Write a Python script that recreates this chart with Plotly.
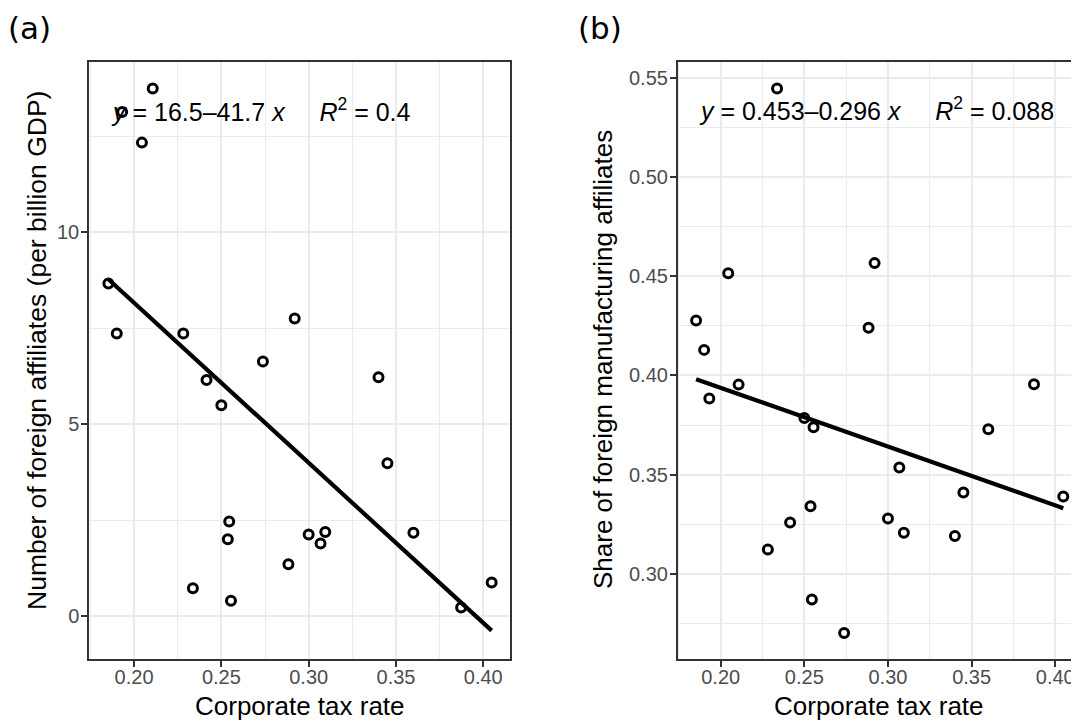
import plotly.graph_objects as go

# ---- data ----
tax_rate = [0.1853, 0.1901, 0.1932, 0.2045, 0.2107, 0.2282, 0.2337, 0.2415,
            0.2500, 0.2537, 0.2545, 0.2555, 0.2738, 0.2884, 0.2920, 0.3000,
            0.3068, 0.3095, 0.3400, 0.3451, 0.3600, 0.3873, 0.4048]
affiliates = [8.66, 7.36, 13.13, 12.33, 13.74, 7.36, 0.72, 6.15,
              5.49, 2.00, 2.46, 0.40, 6.63, 1.35, 7.75, 2.12,
              1.89, 2.19, 6.22, 3.98, 2.17, 0.22, 0.87]
manuf_share = [0.4277, 0.4129, 0.3884, 0.4515, 0.3954, 0.3124, 0.5445, 0.3260,
               0.3786, 0.3341, 0.2872, 0.3739, 0.2703, 0.4240, 0.4566, 0.3280,
               0.3537, 0.3208, 0.3192, 0.3411, 0.3729, 0.3956, 0.3390]

x_ticks = [0.20, 0.25, 0.30, 0.35, 0.40]
x_tick_labels = ["0.20", "0.25", "0.30", "0.35", "0.40"]
x_minor = [0.175, 0.225, 0.275, 0.325, 0.375, 0.425]
a_y_ticks = [0, 5, 10]
a_y_tick_labels = ["0", "5", "10"]
a_y_minor = [-2.5, 2.5, 7.5, 12.5]
b_y_ticks = [0.30, 0.35, 0.40, 0.45, 0.50, 0.55]
b_y_tick_labels = ["0.30", "0.35", "0.40", "0.45", "0.50", "0.55"]
b_y_minor = [0.275, 0.325, 0.375, 0.425, 0.475, 0.525]

# regression equations as printed on the chart
a_intercept, a_slope, a_r2 = 16.5, -41.7, "0.4"
b_intercept, b_slope, b_r2 = 0.453, -0.296, "0.088"

x_title = "Corporate tax rate"
a_y_title = "Number of foreign affiliates (per billion GDP)"
b_y_title = "Share of foreign manufacturing affiliates"

# ---- layout constants ----
OFF = 8                      # page body margin of the html page
W, H = 1079 - OFF, 723 - OFF
FONT = "Liberation Sans, Arial, sans-serif"
BORDER = "#333333"
GRID = "#EBEBEB"
TICKC = "#4D4D4D"


def px_x(p):
    return (p - OFF) / W


def px_y(p):
    return 1 - (p - OFF) / H


fig = go.Figure()

xmin, xmax = min(tax_rate), max(tax_rate)
marker = dict(symbol="circle-open", size=9, color="black",
              line=dict(width=3, color="black"))

# panel (a)
fig.add_trace(go.Scatter(
    x=[xmin, xmax], y=[a_intercept + a_slope * xmin, a_intercept + a_slope * xmax],
    mode="lines", line=dict(color="black", width=4.2), xaxis="x", yaxis="y",
    hoverinfo="skip"))
fig.add_trace(go.Scatter(
    x=tax_rate, y=affiliates, mode="markers", xaxis="x", yaxis="y", marker=marker))

# panel (b)
fig.add_trace(go.Scatter(
    x=[xmin, xmax], y=[b_intercept + b_slope * xmin, b_intercept + b_slope * xmax],
    mode="lines", line=dict(color="black", width=4.2), xaxis="x2", yaxis="y2",
    hoverinfo="skip"))
fig.add_trace(go.Scatter(
    x=tax_rate, y=manuf_share, mode="markers", xaxis="x2", yaxis="y2", marker=marker))

common_axis = dict(
    showline=True, linecolor=BORDER, linewidth=1.5,
    ticks="outside", ticklen=6, tickwidth=1.5, tickcolor=BORDER,
    showgrid=True, gridcolor=GRID, gridwidth=1.8, zeroline=False,
    tickfont=dict(family=FONT, size=20, color=TICKC),
)
minor_x = dict(tickvals=x_minor, showgrid=True, gridcolor=GRID, gridwidth=1.1, ticks="")

ydom = [px_y(659), px_y(62)]

fig.update_layout(
    width=W, height=H,
    margin=dict(l=0, r=0, t=0, b=0),
    paper_bgcolor="white", plot_bgcolor="white",
    showlegend=False,
    xaxis=dict(common_axis, domain=[px_x(89), px_x(510)], range=[0.1742, 0.4153],
               tickvals=x_ticks, ticktext=x_tick_labels, anchor="y", mirror=True,
               ticklabelstandoff=-7, minor=minor_x),
    yaxis=dict(common_axis, domain=ydom, range=[-1.12, 14.43],
               tickvals=a_y_ticks, ticktext=a_y_tick_labels, anchor="x", mirror=True,
               ticklabelstandoff=-2,
               minor=dict(tickvals=a_y_minor, showgrid=True, gridcolor=GRID, gridwidth=1.1, ticks="")),
    xaxis2=dict(common_axis, domain=[px_x(677.7), 1.0], range=[0.1743, 0.4142],
                tickvals=x_ticks, ticktext=x_tick_labels, anchor="y2", mirror=True,
                ticklabelstandoff=-7, minor=minor_x),
    yaxis2=dict(common_axis, domain=ydom, range=[0.2572, 0.5579],
                tickvals=b_y_ticks, ticktext=b_y_tick_labels, anchor="x2", mirror=False,
                ticklabelstandoff=-2,
                minor=dict(tickvals=b_y_minor, showgrid=True, gridcolor=GRID, gridwidth=1.1, ticks="")),
)


def eq_text(intercept, slope, r2):
    sign = "\u2013" if slope < 0 else "+"
    return ("<i>y</i> = " + f"{intercept:g}" + sign + f"{abs(slope):g}"
            + " <i>x</i>" + "\u00a0" * 5 + "<i>R</i><sup>2</sup> = " + r2)


def ann(text, x, y, size, xanchor="left", angle=0, family=FONT, yanchor="middle"):
    return dict(text=text, x=px_x(x), y=px_y(y), xref="paper", yref="paper",
                xanchor=xanchor, yanchor=yanchor, textangle=angle, showarrow=False,
                font=dict(family=family, size=size, color="black"))


annotations = [
    ann("(a)", 6, OFF, 31, family="DejaVu Sans", yanchor="top"),
    ann("(b)", 576, OFF, 31, family="DejaVu Sans", yanchor="top"),
    ann(eq_text(a_intercept, a_slope, a_r2), 109, 110, 25),
    ann(eq_text(b_intercept, b_slope, b_r2), 697, 108.5, 25),
    ann(x_title, 299.5, 706, 26, xanchor="center"),
    ann(x_title, 879, 706, 26, xanchor="center"),
    ann(a_y_title, 37, 351, 26.5, xanchor="center", angle=-90),
    ann(b_y_title, 603, 360, 26, xanchor="center", angle=-90),
]
fig.update_layout(annotations=annotations)

fig.write_html("out.html")
